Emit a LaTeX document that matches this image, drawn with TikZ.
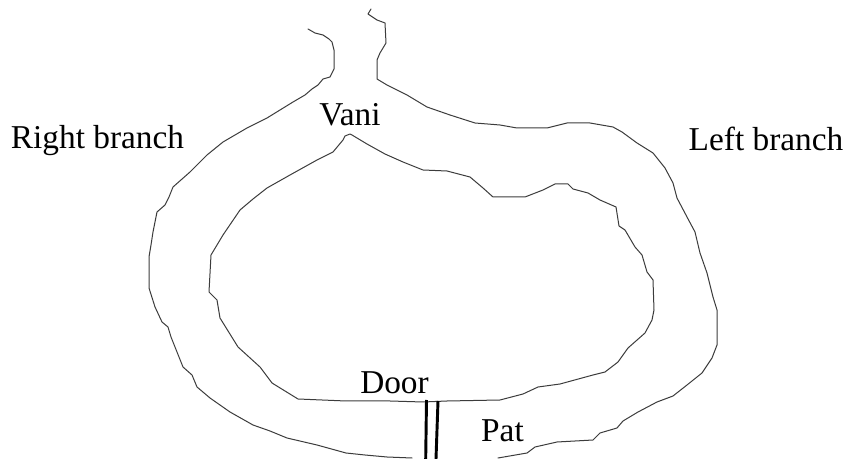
\documentclass[tikz,border=0pt]{standalone}
\usepackage{fontspec}
\setmainfont{Liberation Serif}
\definecolor{wallgray}{RGB}{60,60,60}
\tikzset{
  wall/.style={draw=wallgray,line width=0.75pt,line join=round,line cap=round},
  doorline/.style={draw=black,line width=2.2pt},
  lab/.style={inner sep=0pt,anchor=base,font=\fontsize{25pt}{28pt}\selectfont,text=black}
}
\begin{document}
\begin{tikzpicture}[x=0.75pt,y=-0.75pt]
\useasboundingbox[fill=white] (0,0) rectangle (846,459);
% outer wall, right-branch side
\draw[wall] (308,29) -- (315,33) -- (323,35) -- (329,39) -- (332,42) -- (334,50) -- (334,69) -- (330,77) -- (323,79) -- (318,85) -- (312,89) -- (305,95) -- (293,102) -- (280,110) -- (267,118) -- (247,128) -- (235,135) -- (223,142) -- (207,155) -- (190,172) -- (173,187) -- (169,197) -- (165,205) -- (157,212) -- (155,222) -- (153,232) -- (151,245) -- (149,257) -- (149,288) -- (155,307) -- (162,322) -- (168,327) -- (171,337) -- (175,347) -- (183,367) -- (192,375) -- (197,387) -- (210,398) -- (230,412) -- (253,425) -- (270,431) -- (287,438) -- (317,445) -- (346,453) -- (365,455) -- (387,457) -- (412,458);
% outer wall, left-branch side
\draw[wall] (371,9) -- (368,14) -- (377,20) -- (385,23) -- (386,43) -- (380,53) -- (377,60) -- (377,79) -- (387,85) -- (407,95) -- (427,107) -- (450,115) -- (475,123) -- (500,125) -- (517,128) -- (547,128) -- (567,123) -- (590,123) -- (613,127) -- (622,132) -- (637,143) -- (653,153) -- (665,168) -- (673,183) -- (677,198) -- (687,217) -- (695,232) -- (700,253) -- (707,273) -- (713,297) -- (717,310) -- (717,345) -- (712,358) -- (702,373) -- (687,385) -- (673,396) -- (657,402) -- (638,412) -- (623,421) -- (617,428) -- (600,433) -- (593,440) -- (557,442) -- (535,447) -- (527,453) -- (498,458);
% inner wall
\draw[wall] (350,134) -- (345,136) -- (343,140) -- (333,152) -- (317,160) -- (290,175) -- (267,188) -- (253,199) -- (240,210) -- (223,235) -- (211,255) -- (209,292) -- (217,300) -- (220,318) -- (238,347) -- (260,367) -- (272,383) -- (298,399) -- (346,401) -- (390,401) -- (423,402) -- (447,401) -- (500,400) -- (523,394) -- (538,387) -- (560,384) -- (593,375) -- (605,372) -- (618,362) -- (628,348) -- (645,333) -- (652,320) -- (654,310) -- (653,280) -- (647,272) -- (642,255) -- (635,247) -- (625,230) -- (619,226) -- (616,207) -- (600,200) -- (588,193) -- (573,189) -- (568,184) -- (555,184) -- (543,190) -- (525,197) -- (493,197) -- (483,188) -- (470,177) -- (447,171) -- (423,170) -- (403,162) -- (385,154) -- (367,144) -- (352,135) -- (350,134);
% door
\coordinate (d1a) at (426.5,400);
\coordinate (d1b) at (425.7,459);
\coordinate (d2a) at (438,401);
\coordinate (d2b) at (437,430);
\coordinate (d2c) at (436,459);
\draw[doorline] (d1a) -- (d1b);
\draw[doorline] (d2a) -- (d2b) -- (d2c);
% labels
\node[lab] (right) at (97.5,149) {Right branch};
\node[lab] (left) at (766,151) {Left branch};
\node[lab] (vani) at (350,126) {Vani};
\node[lab] (door) at (394.5,394) {Door};
\node[lab] (pat) at (502.5,441) {Pat};
\end{tikzpicture}
\end{document}
